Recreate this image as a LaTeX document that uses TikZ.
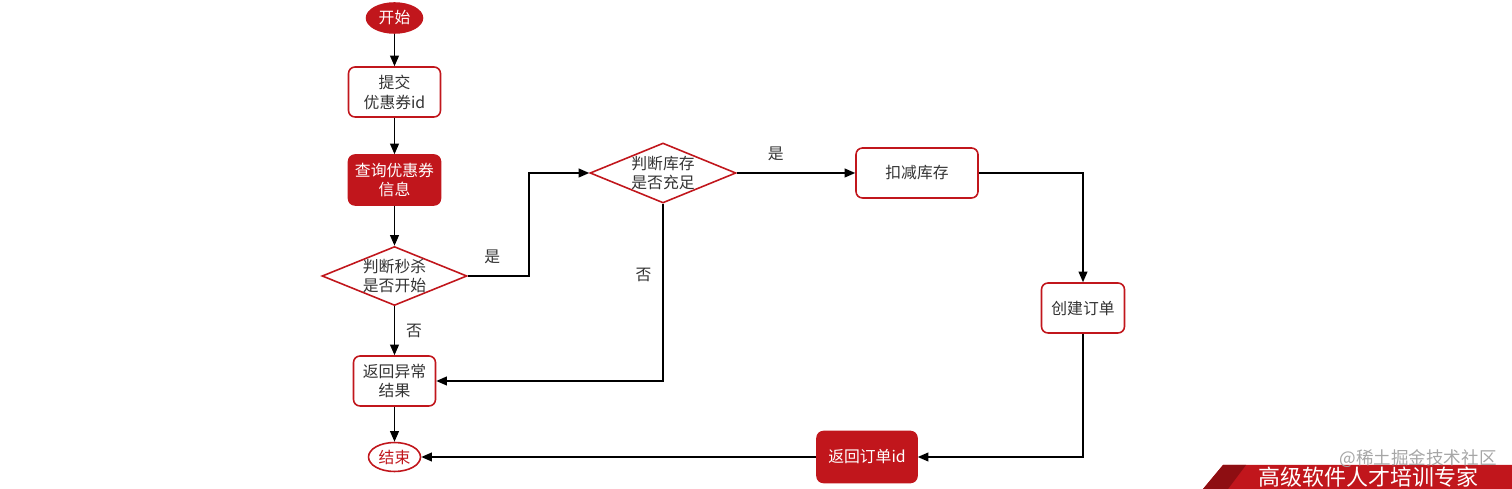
\documentclass[tikz,border=0pt]{standalone}
\usepackage{fontspec}
\newfontfamily\cjk{Noto Sans CJK SC}
\usetikzlibrary{shapes.geometric,arrows.meta}

\definecolor{flowred}{HTML}{C1161C}
\definecolor{darkred}{HTML}{8E0E12}
\definecolor{flowtext}{HTML}{333333}

\tikzset{
	txt/.style={font=\cjk\fontsize{9}{11.3}\selectfont, text=flowtext, align=center},
	box/.style={txt, draw=flowred, line width=0.9pt, rounded corners=0.13cm, fill=white, inner sep=0pt},
	boxfill/.style={box, fill=flowred, text=white},
	term/.style={txt, ellipse, draw=flowred, line width=0.9pt, inner sep=0pt},
	decision/.style={diamond, draw=flowred, line width=0.9pt, inner sep=0pt, fill=white},
	flow/.style={-{Triangle[length=6pt,width=5pt]}, line width=0.85pt},
}

\begin{document}
\begin{tikzpicture}[x=0.02cm, y=-0.02cm]
	\useasboundingbox (0,0) rectangle (1512,489);

	% left column
	\node[term, fill=flowred, text=white, minimum width=1.12cm, minimum height=0.6cm] (start) at (394.5,18) {开始};
	\node[box, minimum width=1.84cm, minimum height=1cm] (submit) at (394.5,92) {提交\\优惠券id};
	\node[boxfill, minimum width=1.84cm, minimum height=1cm] (query) at (394.5,180) {查询优惠券\\信息};
	\node[decision, minimum width=2.9cm, minimum height=1.18cm,
		label={[txt]center:判断秒杀\\是否开始}] (seckill) at (394.5,276) {};
	\node[box, minimum width=1.64cm, minimum height=1cm] (fail) at (394.5,381) {返回异常\\结果};
	\node[term, fill=white, text=flowred, minimum width=1.04cm, minimum height=0.58cm] (end) at (394.5,457) {结束};

	% right part
	\node[decision, minimum width=2.92cm, minimum height=1.2cm,
		label={[txt]center:判断库存\\是否充足}] (stock) at (663,173) {};
	\node[box, minimum width=2.44cm, minimum height=1cm] (deduct) at (917,173) {扣减库存};
	\node[box, minimum width=1.66cm, minimum height=1cm] (order) at (1083,308) {创建订单};
	\node[boxfill, minimum width=2cm, minimum height=1.02cm] (retid) at (867,457) {返回订单id};

	% connectors
	\draw[flow] (start) -- (submit);
	\draw[flow] (submit) -- (query);
	\draw[flow] (query) -- (seckill);
	\draw[flow] (seckill) -- node[txt, right=0.1cm]{否} (fail);
	\draw[flow] (seckill.east) -- node[txt, above=0.12cm, pos=0.4]{是} ++(61,0) |- (stock.west);
	\draw[flow] (stock.south) |- node[txt, left=0.1cm, pos=0.2]{否} (fail.east);
	\draw[flow] (stock) -- node[txt, above=0.12cm, pos=0.33]{是} (deduct);
	\draw[flow] (deduct.east) -| (order.north);
	\draw[flow] (order.south) |- (retid.east);
	\draw[flow] (retid) -- (end);
	\draw[flow] (fail) -- (end);

	% banner
	\fill[flowred] (1203,489) -- (1223,465) -- (1512,465) -- (1512,489) -- cycle;
	\fill[darkred] (1203,489) -- (1223,465) -- (1246,465) -- (1228,489) -- cycle;
	\node[font=\cjk\fontsize{12.5}{14}\selectfont, text=white, anchor=west, inner sep=0pt] (slogan) at (1258,477.5) {高级软件人才培训专家};
	\node[font=\cjk\fontsize{10}{12}\selectfont, text=gray!70, anchor=east, inner sep=0pt] (mark) at (1497,459) {@稀土掘金技术社区};
\end{tikzpicture}
\end{document}
